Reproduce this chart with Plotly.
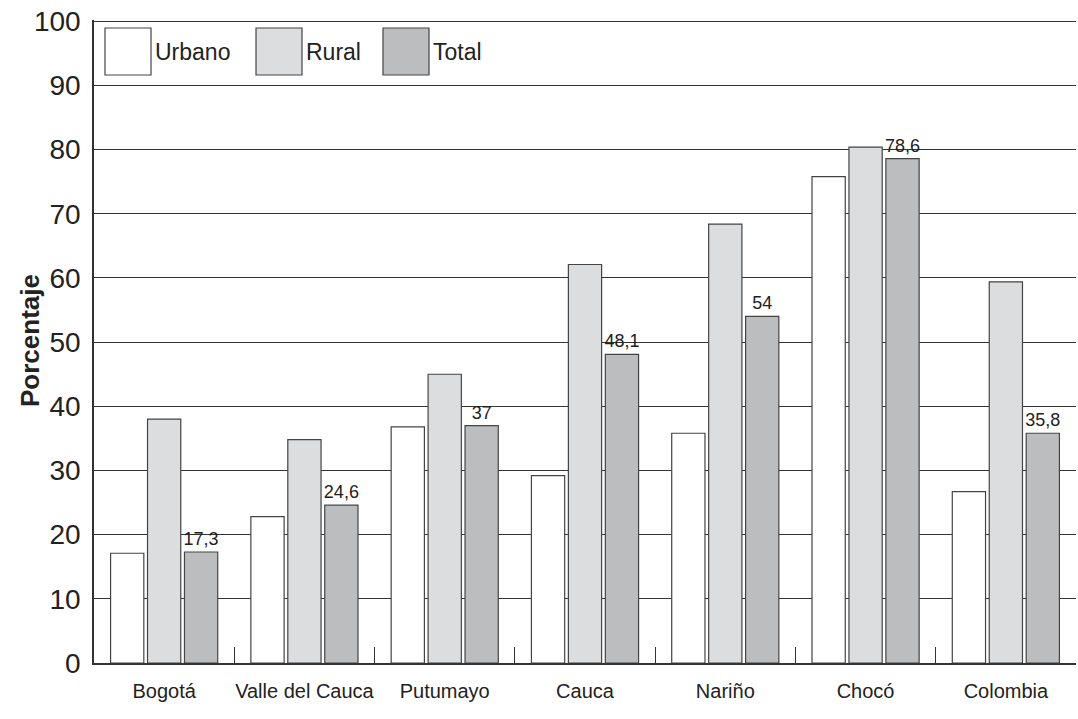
import plotly.graph_objects as go

categories = ["Bogotá", "Valle del Cauca", "Putumayo", "Cauca", "Nariño", "Chocó", "Colombia"]
urbano = [17.1, 22.8, 36.8, 29.2, 35.8, 75.8, 26.7]
rural = [38.0, 34.8, 45.0, 62.1, 68.4, 80.4, 59.4]
total = [17.3, 24.6, 37, 48.1, 54, 78.6, 35.8]
y_ticks = [0, 10, 20, 30, 40, 50, 60, 70, 80, 90, 100]

series = [("Urbano", urbano, "#ffffff"), ("Rural", rural, "#dcdddf"), ("Total", total, "#bcbdbf")]

FONT = "Liberation Sans, Arial, sans-serif"


def fnt(size, **kw):
    return dict(size=size, family=FONT, color="#222", **kw)


fig = go.Figure()
for name, vals, col in series:
    kw = {}
    if name == "Total":
        kw = dict(texttemplate="%{y}", textposition="outside",
                  textfont=fnt(18),
                  cliponaxis=False, constraintext="none")
    fig.add_trace(go.Bar(x=categories, y=vals, name=name,
                         marker=dict(color=col, line=dict(color="#444", width=1.2)),
                         showlegend=False, **kw))

W, H = 1078, 719
L, R, T, B = 94, 2, 20, 56
fig.update_layout(
    width=W, height=H,
    margin=dict(l=L, r=R, t=T, b=B, autoexpand=False),
    paper_bgcolor="white", plot_bgcolor="white",
    barmode="group", bargap=0.21, bargroupgap=0.1,
    separators=",.",
    font=fnt(16),
)
fig.update_xaxes(
    showline=True, linecolor="#333", linewidth=1.5,
    ticks="inside", tickson="boundaries", ticklen=16, tickcolor="#333", tickwidth=1.2,
    tickfont=fnt(20), tickangle=0, automargin=False,
    ticklabelstandoff=9,
    showgrid=False,
)
fig.update_yaxes(
    range=[0, 100.2], tickvals=y_ticks,
    showline=True, linecolor="#333", linewidth=1.5,
    ticks="inside", ticklen=6, tickcolor="#333",
    tickfont=fnt(28), automargin=False,
    ticklabelstandoff=6, ticklabeloverflow="allow",
    showgrid=True, gridcolor="#333", gridwidth=1.3,
    zeroline=False,
)

pw, ph = W - L - R, H - T - B


def px(x):
    return (x - L) / pw


def py(y):
    return 1 - (y - T) / ph


fig.add_annotation(xref="paper", yref="paper", x=px(30), y=py(341),
                   text="<b>Porcentaje</b>", textangle=-90, showarrow=False,
                   xanchor="center", yanchor="middle", font=fnt(26))

# manual legend with large swatches
legend_items = [("Urbano", "#ffffff", 105, 153), ("Rural", "#dcdddf", 256, 304), ("Total", "#bcbdbf", 383, 431)]
for name, col, sx, tx in legend_items:
    fig.add_shape(type="rect", xref="paper", yref="paper",
                  x0=px(sx), x1=px(sx + 46), y0=py(75), y1=py(28),
                  fillcolor=col, line=dict(color="#444", width=1.2))
    fig.add_annotation(xref="paper", yref="paper", x=px(tx), y=py(52),
                       text=name, showarrow=False, xanchor="left", yanchor="middle",
                       font=fnt(23))

fig.write_html("out.html",
               config={"displayModeBar": False},
               post_script="document.body.style.margin='0';document.body.style.overflow='hidden';")
